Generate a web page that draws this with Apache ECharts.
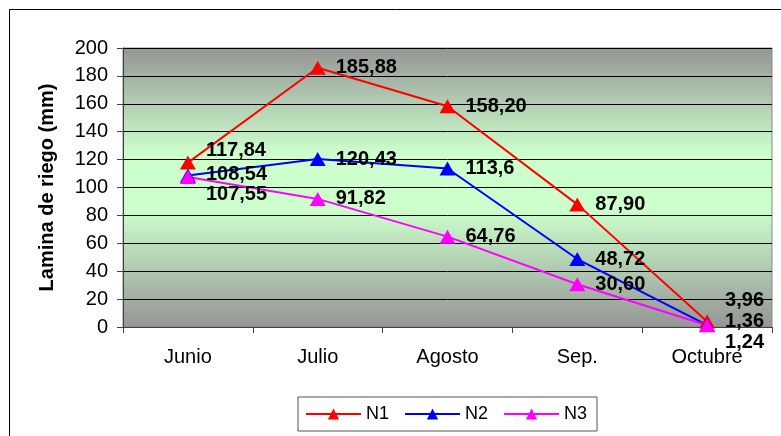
<!DOCTYPE html>
<html>
<head>
<meta charset="utf-8">
<script src="https://cdn.jsdelivr.net/npm/echarts@6/dist/echarts.min.js"></script>
<style>
  html, body { margin: 0; padding: 0; background: #fff; }
  #chart { width: 781px; height: 436px; }
</style>
</head>
<body>
<div id="chart"></div>
<script>
// Months on the category axis
const months = ['Junio', 'Julio', 'Agosto', 'Sep.', 'Octubre'];

// Irrigation depth (mm) per treatment
const n1 = [117.84, 185.88, 158.20, 87.90, 3.96];
const n2 = [108.54, 120.43, 113.6, 48.72, 1.36];
const n3 = [107.55, 91.82, 64.76, 30.60, 1.24];

// Label text as printed (comma decimals)
const n1Text = ['117,84', '185,88', '158,20', '87,90', '3,96'];
const n2Text = ['108,54', '120,43', '113,6', '48,72', '1,36'];
const n3Text = ['107,55', '91,82', '64,76', '30,60', '1,24'];

// Y axis ticks
const yTicks = [0, 20, 40, 60, 80, 100, 120, 140, 160, 180, 200];

// Vertical nudges keeping crowded labels apart
const n1Nudge = [-12, 0, 0, 0, -21];
const n2Nudge = [-1, 0, 0, 0, -4];
const n3Nudge = [18, 0, 0, 0, 17];

const FONT = '"Liberation Sans", Arial, sans-serif';

function build(values, texts, nudges) {
  return values.map((v, i) => ({
    value: v,
    label: { formatter: texts[i], offset: [0, nudges[i]] }
  }));
}

function series(name, color, values, texts, nudges) {
  return {
    name: name,
    type: 'line',
    data: build(values, texts, nudges),
    symbol: 'triangle',
    symbolSize: [16, 14],
    lineStyle: { color: color, width: 2 },
    itemStyle: { color: color },
    label: {
      show: true,
      position: 'right',
      distance: 10,
      color: '#000',
      fontFamily: FONT,
      fontWeight: 'bold',
      fontSize: 20
    },
    z: 3
  };
}

const chart = echarts.init(document.getElementById('chart'), null, { renderer: 'canvas' });

chart.setOption({
  animation: false,
  backgroundColor: '#fff',
  textStyle: { fontFamily: FONT },
  grid: {
    left: 123,
    right: 9,
    top: 48,
    bottom: 109,
    show: true,
    borderColor: '#888',
    borderWidth: 1,
    backgroundColor: {
      type: 'linear', x: 0, y: 0, x2: 0, y2: 1,
      colorStops: [
        { offset: 0, color: '#959595' },
        { offset: 0.38, color: '#ccffcc' },
        { offset: 0.58, color: '#ccffcc' },
        { offset: 1, color: '#959595' }
      ]
    }
  },
  graphic: [
    {
      type: 'rect',
      shape: { x: 9.5, y: 9.5, width: 900, height: 600 },
      style: { fill: 'none', stroke: '#000', lineWidth: 1 },
      silent: true
    }
  ],
  legend: {
    data: ['N1', 'N2', 'N3'],
    left: 298,
    top: 397,
    orient: 'horizontal',
    padding: [8, 10, 8, 7],
    itemGap: 15,
    itemWidth: 55,
    itemHeight: 14,
    borderColor: '#555',
    borderWidth: 1,
    textStyle: { fontFamily: FONT, fontSize: 18, color: '#000' }
  },
  xAxis: {
    type: 'category',
    data: months,
    boundaryGap: true,
    axisLine: { lineStyle: { color: '#404040', width: 1 } },
    axisTick: { show: true, length: 6, alignWithLabel: false, lineStyle: { color: '#404040' } },
    axisLabel: { color: '#000', fontSize: 20, fontFamily: FONT, margin: 20 },
    splitLine: { show: false }
  },
  yAxis: {
    type: 'value',
    min: yTicks[0],
    max: yTicks[yTicks.length - 1],
    interval: yTicks[1] - yTicks[0],
    name: 'Lamina de riego (mm)',
    nameLocation: 'middle',
    nameGap: 66,
    nameRotate: 90,
    nameTextStyle: { fontFamily: FONT, fontWeight: 'bold', fontSize: 20, color: '#000' },
    axisLine: { show: true, lineStyle: { color: '#404040', width: 1 } },
    axisTick: { show: true, length: 6, lineStyle: { color: '#404040' } },
    axisLabel: { color: '#000', fontSize: 20, fontFamily: FONT, margin: 15 },
    splitLine: { show: true, lineStyle: { color: '#000', width: 1 } }
  },
  series: [
    series('N1', '#ff0000', n1, n1Text, n1Nudge),
    series('N2', '#0000ff', n2, n2Text, n2Nudge),
    series('N3', '#ff00ff', n3, n3Text, n3Nudge)
  ]
});
</script>
</body>
</html>
